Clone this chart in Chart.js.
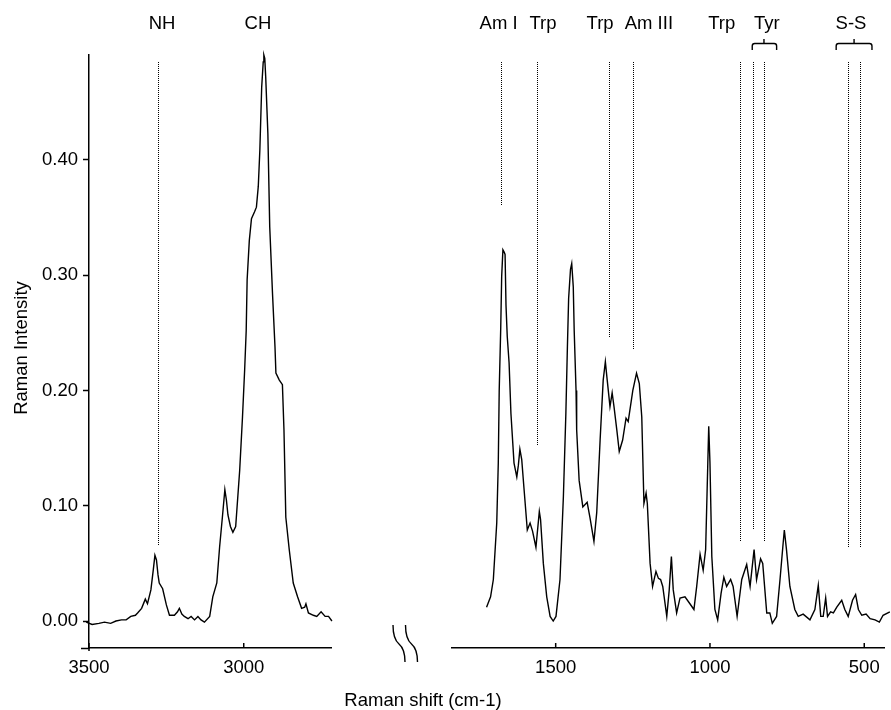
<!DOCTYPE html>
<html><head><meta charset="utf-8">
<script src="https://cdn.jsdelivr.net/npm/chart.js@4.4.0/dist/chart.umd.min.js"></script>
<style>
html,body{margin:0;padding:0;background:#fff;}
#wrap{position:relative;width:891px;height:710px;background:#fff;}
canvas{position:absolute;left:0;top:0;}
</style></head><body>
<div id="wrap"><canvas id="c1" width="891" height="710"></canvas><canvas id="c2" width="891" height="710"></canvas></div>
<script>
// ---- data: high-wavenumber region (cm-1) ----
const highWn = [3509,3490,3468,3450,3430,3413,3395,3380,3365,3350,3343,3330,3318,3311,3300,3292,3287,3282,3277,3273,3262,3250,3240,3224,3214,3208,3200,3192,3180,3170,3159,3148,3138,3127,3110,3100,3087,3078,3069,3061,3056,3051,3043,3035,3026,3013,3004,2997,2992,2989,2982,2975,2965,2959,2953,2948,2942,2937,2935,2932,2929,2922,2916,2907,2899,2896,2885,2875,2870,2864,2853,2840,2826,2813,2803,2799,2791,2775,2764,2750,2737,2726,2715];
const highInt = [-0.001,-0.003,-0.002,-0.001,-0.002,0.000,0.001,0.001,0.004,0.005,0.007,0.011,0.019,0.015,0.027,0.045,0.057,0.053,0.040,0.033,0.028,0.014,0.005,0.005,0.008,0.011,0.006,0.004,0.002,0.004,0.001,0.004,0.001,-0.001,0.004,0.021,0.033,0.064,0.090,0.114,0.105,0.092,0.082,0.077,0.082,0.131,0.177,0.218,0.252,0.296,0.330,0.349,0.355,0.359,0.377,0.408,0.463,0.485,0.491,0.488,0.472,0.423,0.342,0.284,0.238,0.215,0.209,0.205,0.166,0.090,0.062,0.033,0.021,0.011,0.012,0.015,0.007,0.005,0.004,0.008,0.004,0.004,0.000];
// ---- data: fingerprint region (cm-1) ----
const lowWn = [1724,1711,1702,1691,1686,1683,1678,1675,1671,1667,1664,1661,1657,1651,1645,1635,1626,1621,1616,1610,1603,1592,1583,1575,1564,1553,1549,1540,1529,1518,1508,1499,1486,1475,1467,1462,1458,1452,1448,1443,1440,1434,1432,1424,1412,1398,1389,1376,1367,1356,1346,1339,1333,1324,1317,1311,1302,1294,1283,1272,1265,1250,1238,1229,1221,1214,1207,1203,1194,1186,1175,1167,1160,1153,1140,1132,1125,1119,1108,1097,1081,1065,1052,1043,1032,1022,1014,1007,1004,1000,994,984,975,964,955,946,933,925,912,897,881,870,857,849,836,829,816,806,798,784,773,764,759,752,741,725,714,698,676,660,649,641,633,625,619,609,600,589,573,563,552,538,528,519,508,494,481,465,451,439,417];
const lowInt = [0.012,0.021,0.036,0.085,0.137,0.200,0.255,0.299,0.322,0.320,0.318,0.274,0.247,0.224,0.180,0.137,0.125,0.135,0.149,0.140,0.116,0.079,0.085,0.078,0.064,0.095,0.088,0.050,0.021,0.004,0.000,0.004,0.036,0.108,0.180,0.238,0.280,0.305,0.310,0.290,0.252,0.200,0.166,0.122,0.099,0.103,0.090,0.069,0.094,0.157,0.209,0.225,0.209,0.186,0.198,0.186,0.166,0.147,0.157,0.176,0.173,0.200,0.215,0.206,0.177,0.102,0.111,0.102,0.050,0.030,0.043,0.037,0.036,0.030,0.004,0.027,0.056,0.027,0.007,0.020,0.021,0.015,0.010,0.030,0.058,0.044,0.062,0.137,0.169,0.137,0.056,0.010,0.001,0.024,0.038,0.030,0.036,0.030,0.004,0.036,0.049,0.030,0.062,0.036,0.054,0.050,0.007,0.007,-0.002,0.004,0.036,0.064,0.079,0.062,0.030,0.010,0.004,0.006,0.001,0.010,0.031,0.004,0.004,0.020,0.004,0.008,0.007,0.012,0.018,0.010,0.004,0.018,0.023,0.010,0.005,0.006,0.002,0.001,-0.001,0.005,0.008];
// ---- ticks ----
const yTickValues = [0.00, 0.10, 0.20, 0.30, 0.40];
const highXTicks = [3500, 3000];
const lowXTicks = [1500, 1000, 500];
// ---- band markers (dotted lines) ----
const highMarkWn = [3277];
const highMarkLow = [0.065];
const lowMarkWn = [1678, 1562, 1328, 1250, 902, 862, 824, 552, 513];
const lowMarkLow = [0.360, 0.152, 0.246, 0.236, 0.069, 0.079, 0.069, 0.064, 0.064];
const markTop = 0.485;
// ---- band labels ----
const highLabels = ['NH', 'CH'];
const highLabelWn = [3264, 2954];
const lowLabels = ['Am I', 'Trp', 'Trp', 'Am III', 'Trp', 'Tyr', 'S-S'];
const lowLabelWn = [1685, 1541, 1356, 1198, 962, 816, 543];
const bracketFrom = [863, 591];
const bracketMid = [825, 533];
const bracketTo = [784, 475];

const FONT = '18.5px "Liberation Sans", Arial, Helvetica, sans-serif';
const Y_MIN = -0.0234, Y_MAX = 0.491;

function spectrum(wn, val) {
  return {data: wn.map((w, i) => ({x: w, y: val[i]})), borderColor: '#000', borderWidth: 1.4,
    pointRadius: 0, tension: 0, clip: false, fill: false};
}
function drawMarkers(chart, wn, low) {
  const xs = chart.scales.x, ys = chart.scales.y, ctx = chart.ctx;
  ctx.save(); ctx.strokeStyle = '#000'; ctx.lineWidth = 1; ctx.setLineDash([1, 1]);
  wn.forEach((w, i) => {
    const px = Math.round(xs.getPixelForValue(w)) + 0.5;
    const y1 = Math.round(ys.getPixelForValue(markTop)), y2 = Math.round(ys.getPixelForValue(low[i]));
    ctx.beginPath(); ctx.moveTo(px, y1); ctx.lineTo(px, y2); ctx.stroke();
  });
  ctx.restore();
}
function insideTicks(chart, vals) {
  const xs = chart.scales.x, ctx = chart.ctx, b = chart.chartArea.bottom;
  ctx.save(); ctx.strokeStyle = '#000'; ctx.lineWidth = 1.5;
  vals.forEach(v => { const px = xs.getPixelForValue(v); ctx.beginPath(); ctx.moveTo(px, b); ctx.lineTo(px, b - 5); ctx.stroke(); });
  ctx.restore();
}
function topLabels(chart, names, wns) {
  const xs = chart.scales.x, ctx = chart.ctx;
  ctx.save(); ctx.fillStyle = '#000'; ctx.font = FONT; ctx.textAlign = 'center'; ctx.textBaseline = 'alphabetic';
  names.forEach((n, i) => ctx.fillText(n, xs.getPixelForValue(wns[i]), 29));
  ctx.restore();
}
function xOpts(min, max, ticks) {
  return {type: 'linear', min: min, max: max, reverse: true,
    afterBuildTicks: s => { s.ticks = ticks.map(v => ({value: v})); },
    afterFit: s => { s.height = 62; },
    grid: {drawOnChartArea: false, drawTicks: false},
    border: {display: true, color: '#000', width: 1.5},
    ticks: {color: '#000', font: {family: '"Liberation Sans", Arial, sans-serif', size: 18.5}, padding: 9, maxRotation: 0,
      callback: v => String(v)}};
}
function yOpts(show) {
  return {type: 'linear', min: Y_MIN, max: Y_MAX, display: show,
    afterBuildTicks: s => { s.ticks = yTickValues.map(v => ({value: v})); },
    afterFit: s => { if (show) s.width = 89; },
    grid: {drawOnChartArea: false, drawTicks: true, tickLength: 6, color: '#000', tickColor: '#000', tickWidth: 1.5},
    border: {display: true, color: '#000', width: 1.5},
    ticks: {color: '#000', font: {family: '"Liberation Sans", Arial, sans-serif', size: 18.5}, padding: 5,
      callback: v => Number(v).toFixed(2)}};
}

const highPlugin = {id: 'highDecor', afterDraw(chart) {
  const ctx = chart.ctx, ca = chart.chartArea;
  drawMarkers(chart, highMarkWn, highMarkLow);
  insideTicks(chart, highXTicks);
  topLabels(chart, highLabels, highLabelWn);
  ctx.save(); ctx.strokeStyle = '#000'; ctx.lineWidth = 1.5;
  // small extension of x axis line left of y axis, and y axis below x axis
  ctx.beginPath(); ctx.moveTo(81, ca.bottom + 0.5); ctx.lineTo(ca.left, ca.bottom + 0.5); ctx.stroke();
  ctx.beginPath(); ctx.moveTo(ca.left, ca.bottom); ctx.lineTo(ca.left, ca.bottom + 3); ctx.stroke();
  // axis break marks
  ctx.lineWidth = 1.4;
  [393, 405.5].forEach(x0 => {
    ctx.beginPath(); ctx.moveTo(x0, 625);
    ctx.quadraticCurveTo(x0, 639, x0 + 6, 644);
    ctx.quadraticCurveTo(x0 + 12, 649, x0 + 12, 662);
    ctx.stroke();
  });
  ctx.fillStyle = '#000'; ctx.font = FONT;
  ctx.textAlign = 'center'; ctx.textBaseline = 'alphabetic';
  ctx.fillText('Raman shift (cm-1)', 423, 706);
  ctx.translate(27, 348); ctx.rotate(-Math.PI / 2);
  ctx.fillText('Raman Intensity', 0, 0);
  ctx.restore();
}};
const lowPlugin = {id: 'lowDecor', afterDraw(chart) {
  const ctx = chart.ctx, xs = chart.scales.x;
  drawMarkers(chart, lowMarkWn, lowMarkLow);
  insideTicks(chart, lowXTicks);
  topLabels(chart, lowLabels, lowLabelWn);
  ctx.save(); ctx.strokeStyle = '#000'; ctx.lineWidth = 1.4;
  bracketFrom.forEach((f, i) => {
    const a = xs.getPixelForValue(f), m = xs.getPixelForValue(bracketMid[i]), b = xs.getPixelForValue(bracketTo[i]);
    ctx.beginPath();
    ctx.moveTo(a, 50); ctx.lineTo(a, 46); ctx.quadraticCurveTo(a, 43.5, a + 2.5, 43.5);
    ctx.lineTo(b - 2.5, 43.5); ctx.quadraticCurveTo(b, 43.5, b, 46); ctx.lineTo(b, 50);
    ctx.moveTo(m, 43.5); ctx.lineTo(m, 39);
    ctx.stroke();
  });
  ctx.restore();
}};

const common = {responsive: false, animation: false, devicePixelRatio: 1, events: [],
  plugins: {legend: {display: false}, tooltip: {enabled: false}}};

new Chart(document.getElementById('c1'), {
  type: 'line',
  data: {datasets: [spectrum(highWn, highInt)]},
  options: Object.assign({}, common, {
    layout: {padding: {left: 0, right: 560, top: 55, bottom: 0}},
    scales: {x: xOpts(2718, 3500, highXTicks), y: yOpts(true)}
  }),
  plugins: [highPlugin]
});
new Chart(document.getElementById('c2'), {
  type: 'line',
  data: {datasets: [spectrum(lowWn, lowInt)]},
  options: Object.assign({}, common, {
    layout: {padding: {left: 452, right: 7, top: 55, bottom: 0}},
    scales: {x: xOpts(436, 1836, lowXTicks), y: yOpts(false)}
  }),
  plugins: [lowPlugin]
});
</script>
</body></html>
